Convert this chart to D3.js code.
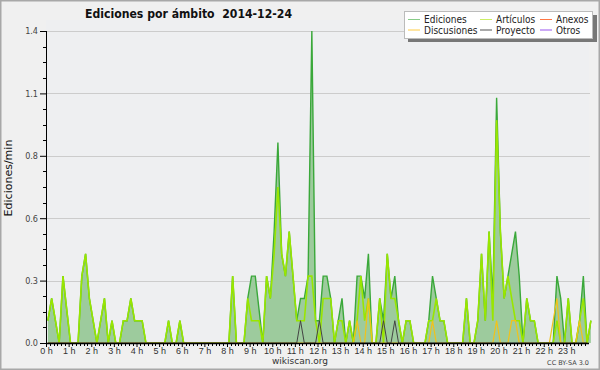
<!DOCTYPE html>
<html lang="es">
<head>
<meta charset="UTF-8">
<title>Ediciones por ámbito</title>
<script src="https://d3js.org/d3.v7.min.js"></script>
<style>
  body { margin: 0; padding: 0; background: #f0f0f0; }
  svg { display: block; font-family: "DejaVu Sans", sans-serif; }
</style>
</head>
<body>
<script>
// edits per minute, one value every 10 minutes (144 per day)
const ediciones = [
  0.1, 0.2, 0.1, 0, 0.3, 0.15, 0, 0, 0, 0.3, 0.4, 0.2, 0.1, 0, 0.1, 0.2, 0, 0.1, 0, 0, 0.1, 0.1, 0.2, 0.1,
  0.1, 0.1, 0, 0, 0, 0, 0, 0, 0.1, 0, 0, 0.1, 0, 0, 0, 0, 0, 0, 0, 0, 0, 0, 0, 0,
  0, 0.3, 0, 0, 0, 0.2, 0.3, 0.3, 0.15, 0, 0.3, 0.2, 0.5, 0.9, 0.4, 0.3, 0.5, 0.3, 0.1, 0.2, 0.2, 0.3, 1.4, 0.1,
  0.1, 0.3, 0.3, 0.2, 0, 0.1, 0.2, 0, 0.1, 0, 0.3, 0.3, 0.2, 0.4, 0, 0, 0.2, 0.1, 0.4, 0.2, 0.3, 0.1,
  0, 0.1, 0.1, 0, 0, 0, 0, 0.1, 0.3, 0.2, 0.1, 0.1, 0, 0, 0, 0, 0, 0.2, 0, 0, 0.1, 0.4, 0.1, 0.5,
  0.2, 1.1, 0.5, 0.2, 0.3, 0.4, 0.5, 0.3, 0, 0.2, 0.1, 0.1, 0, 0, 0, 0, 0, 0.3, 0.2, 0, 0.2, 0, 0, 0.1, 0.3, 0, 0.1
];
const articulos = [
  0.1, 0.2, 0.1, 0, 0.3, 0.15, 0, 0, 0, 0.3, 0.4, 0.2, 0.1, 0, 0.1, 0.2, 0, 0.1, 0, 0, 0.1, 0.1, 0.2, 0.1,
  0.1, 0.1, 0, 0, 0, 0, 0, 0, 0.1, 0, 0, 0.1, 0, 0, 0, 0, 0, 0, 0, 0, 0, 0, 0, 0,
  0, 0.3, 0, 0, 0, 0.2, 0.1, 0.1, 0.1, 0, 0.3, 0.2, 0.4, 0.7, 0.4, 0.3, 0.5, 0.3, 0.1, 0.1, 0.1, 0.3, 0.3, 0.1,
  0, 0.2, 0.2, 0.2, 0, 0.1, 0.1, 0, 0.1, 0, 0.1, 0.3, 0.1, 0.2, 0, 0, 0.2, 0, 0.4, 0.2, 0.2, 0.1,
  0, 0.1, 0.1, 0, 0, 0, 0, 0.1, 0.1, 0.2, 0.1, 0.1, 0, 0, 0, 0, 0, 0.2, 0, 0, 0.1, 0.4, 0.1, 0.5,
  0.1, 1.0, 0.5, 0.2, 0.3, 0.2, 0.1, 0.1, 0, 0.2, 0.1, 0.1, 0, 0, 0, 0, 0, 0.1, 0, 0, 0.2, 0, 0, 0.1, 0.2, 0, 0.1
];
// sparse series: [slot index, value]
const discusiones = [[82, 0.1], [85, 0.2], [102, 0.1], [119, 0.1], [123, 0.1], [124, 0.1], [134, 0.1], [135, 0.2], [141, 0.1]];
const proyecto = [[67, 0.1], [72, 0.1], [89, 0.1], [92, 0.1]];

const hourLabels = d3.range(24).map(h => h + " h");
const yTicks = [0, 0.28, 0.56, 0.84, 1.12, 1.4];

const legendItems = [
  { name: "Ediciones", color: "#88cc88" },
  { name: "Artículos", color: "#ccee66" },
  { name: "Anexos", color: "#ff7744" },
  { name: "Discusiones", color: "#ffcc44" },
  { name: "Proyecto", color: "#555555" },
  { name: "Otros", color: "#9955ee" }
];

const width = 600, height = 370;
const svg = d3.select("body").append("svg")
  .attr("width", width)
  .attr("height", height);

// frame
svg.append("rect")
  .attr("x", 0.75).attr("y", 0.75)
  .attr("width", width - 1.5).attr("height", height - 1.5)
  .attr("fill", "#f0f0f0")
  .attr("stroke", "#a8a8a8")
  .attr("stroke-width", 1.5);

const x = d3.scaleLinear().domain([0, 1440]).range([46, 589]);
const y = d3.scaleLinear().domain([0, 1.4]).range([343, 31]);

svg.append("rect")
  .attr("x", x(0)).attr("y", 20)
  .attr("width", x(1440) - x(0)).attr("height", y(0) - 20)
  .attr("fill", "#eeeff1");

// gridlines
svg.append("g")
  .selectAll("line")
  .data(yTicks.slice(1))
  .join("line")
  .attr("x1", x(0)).attr("x2", x(1440) + 1)
  .attr("y1", d => Math.round(y(d)) + 0.5)
  .attr("y2", d => Math.round(y(d)) + 0.5)
  .attr("stroke", "#cccccc");

const slotX = i => x(i * 10 + 5);
const full = sparse => {
  const arr = new Array(144).fill(0);
  sparse.forEach(([i, v]) => { arr[i] = v; });
  return arr;
};

const area = d3.area()
  .x((d, i) => slotX(i))
  .y0(y(0))
  .y1(d => y(d));
const line = d3.line()
  .x((d, i) => slotX(i))
  .y(d => y(d));

svg.append("path")
  .datum(ediciones)
  .attr("d", area)
  .attr("fill", "#9dcb9d");
svg.append("path")
  .datum(ediciones)
  .attr("d", line)
  .attr("fill", "none")
  .attr("stroke", "#3aa83a")
  .attr("stroke-width", 1.4);
svg.append("path")
  .datum(articulos)
  .attr("d", line)
  .attr("fill", "none")
  .attr("stroke", "#99e600")
  .attr("stroke-width", 1.6);
svg.append("path")
  .datum(full(discusiones))
  .attr("d", line)
  .attr("fill", "none")
  .attr("stroke", "#f2c21a")
  .attr("stroke-width", 1.2);
svg.append("path")
  .datum(full(proyecto))
  .attr("d", line)
  .attr("fill", "none")
  .attr("stroke", "#444444")
  .attr("stroke-width", 1);

// y axis
const yAxis = svg.append("g")
  .attr("transform", `translate(${x(0)},0)`)
  .call(d3.axisLeft(y).tickValues(yTicks).tickFormat(d3.format(".1f")).tickSize(6).tickPadding(2));
yAxis.select(".domain").attr("stroke", "#000").attr("d", `M0.5,${y(1.4)}V${y(0)}`);
yAxis.selectAll("text").attr("font-size", 9).attr("fill", "#444").attr("font-family", "DejaVu Sans Condensed, DejaVu Sans");
yAxis.append("g")
  .selectAll("line")
  .data(d3.range(0, 1.4, 0.07).filter((d, i) => i % 4 !== 0))
  .join("line")
  .attr("x1", -3).attr("x2", 0)
  .attr("y1", d => Math.round(y(d)) + 0.5)
  .attr("y2", d => Math.round(y(d)) + 0.5)
  .attr("stroke", "#000");

// x axis
const xAxis = svg.append("g")
  .attr("transform", `translate(0,${y(0)})`)
  .call(d3.axisBottom(x).tickValues(d3.range(0, 1440, 60)).tickFormat((d, i) => hourLabels[i]).tickSize(4).tickPadding(1));
xAxis.select(".domain").attr("d", `M${x(0)},0.5H${x(1440)}`).attr("stroke", "#000").attr("stroke-width", 1.5);
xAxis.selectAll("text").attr("font-size", 9).attr("fill", "#333");
xAxis.append("g")
  .selectAll("line")
  .data(d3.range(0, 1450, 10).filter(d => d % 60 !== 0))
  .join("line")
  .attr("x1", d => Math.round(x(d)) + 0.5).attr("x2", d => Math.round(x(d)) + 0.5)
  .attr("y1", 0).attr("y2", 3)
  .attr("stroke", "#000");

// title and labels
svg.append("text")
  .attr("x", 85).attr("y", 18)
  .attr("font-size", 12.5)
  .attr("font-weight", "bold")
  .attr("fill", "#111")
  .attr("textLength", 207)
  .attr("lengthAdjust", "spacingAndGlyphs")
  .style("white-space", "pre")
  .text("Ediciones por ámbito  2014-12-24");

svg.append("text")
  .attr("transform", "translate(12,178) rotate(-90)")
  .attr("text-anchor", "middle")
  .attr("font-size", 11)
  .attr("fill", "#111")
  .text("Ediciones/min");

svg.append("text")
  .attr("x", 300).attr("y", 364)
  .attr("text-anchor", "middle")
  .attr("font-size", 9)
  .attr("fill", "#333")
  .text("wikiscan.org");

svg.append("text")
  .attr("x", 589).attr("y", 365)
  .attr("text-anchor", "end")
  .attr("font-size", 6.5)
  .attr("fill", "#444")
  .text("CC BY-SA 3.0");

// legend
const legend = svg.append("g");
legend.append("rect")
  .attr("x", 408).attr("y", 15)
  .attr("width", 189).attr("height", 27)
  .attr("fill", "#777");
legend.append("rect")
  .attr("x", 404.5).attr("y", 11.5)
  .attr("width", 188).attr("height", 27)
  .attr("fill", "#fff")
  .attr("stroke", "#bbb");
const colX = [408, 480, 540];
const rowY = [19, 29.5];
const items = legend.selectAll("g.item")
  .data(legendItems)
  .join("g")
  .attr("class", "item")
  .attr("transform", (d, i) => `translate(${colX[i % 3]},${rowY[Math.floor(i / 3)]})`);
items.append("line")
  .attr("x1", 0).attr("x2", 12)
  .attr("y1", 0.5).attr("y2", 0.5)
  .attr("stroke", d => d.color);
items.append("text")
  .attr("x", 16).attr("y", 4)
  .attr("font-size", 10)
  .attr("font-family", "DejaVu Sans Condensed, DejaVu Sans")
  .attr("fill", "#222")
  .text(d => d.name);
</script>
</body>
</html>
